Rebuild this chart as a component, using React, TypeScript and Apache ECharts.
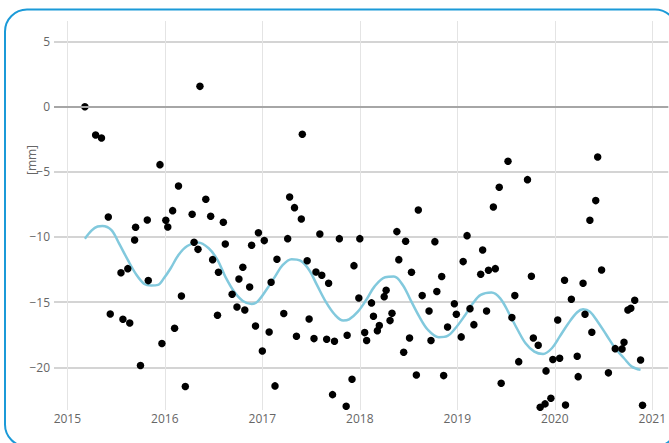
import React, { useEffect, useRef } from "react";
import * as echarts from "echarts";

const xTickYears = [2015, 2016, 2017, 2018, 2019, 2020, 2021];
const yTickValues = [-20, -15, -10, -5, 0, 5];

const obsYears = [
  2015.18, 2015.29, 2015.35, 2015.42, 2015.44, 2015.55, 2015.57, 2015.62, 2015.64, 2015.69,
  2015.7, 2015.75, 2015.82, 2015.83, 2015.95, 2015.97, 2016.01, 2016.03, 2016.08, 2016.1,
  2016.14, 2016.17, 2016.21, 2016.28, 2016.3, 2016.34, 2016.36, 2016.42, 2016.47, 2016.49,
  2016.54, 2016.55, 2016.6, 2016.62, 2016.69, 2016.74, 2016.76, 2016.8, 2016.82, 2016.87,
  2016.89, 2016.93, 2016.96, 2017.0, 2017.02, 2017.07, 2017.09, 2017.13, 2017.15, 2017.22,
  2017.26, 2017.28, 2017.33, 2017.35, 2017.4, 2017.41, 2017.46, 2017.48, 2017.53, 2017.55,
  2017.59, 2017.61, 2017.66, 2017.68, 2017.72, 2017.74, 2017.79, 2017.86, 2017.87, 2017.92,
  2017.94, 2017.99, 2018.0, 2018.05, 2018.07, 2018.12, 2018.14, 2018.18, 2018.2, 2018.25,
  2018.27, 2018.31, 2018.33, 2018.38, 2018.4, 2018.45, 2018.47, 2018.51, 2018.53, 2018.58,
  2018.6, 2018.64, 2018.71, 2018.73, 2018.77, 2018.79, 2018.84, 2018.86, 2018.9, 2018.97,
  2018.99, 2019.04, 2019.06, 2019.1, 2019.13, 2019.17, 2019.24, 2019.26, 2019.3, 2019.32,
  2019.37, 2019.39, 2019.43, 2019.45, 2019.52, 2019.56, 2019.59, 2019.63, 2019.72, 2019.76,
  2019.78, 2019.83, 2019.85, 2019.9, 2019.91, 2019.96, 2019.98, 2020.03, 2020.05, 2020.1,
  2020.11, 2020.17, 2020.23, 2020.24, 2020.29, 2020.31, 2020.36, 2020.38, 2020.42, 2020.44,
  2020.48, 2020.55, 2020.62, 2020.69, 2020.71, 2020.75, 2020.78, 2020.82, 2020.88, 2020.9,
];

const obsValues = [
  0, -2.17, -2.4, -8.47, -15.91, -12.74, -16.32, -12.43, -16.6, -10.23,
  -9.26, -19.87, -8.7, -13.35, -4.45, -18.18, -8.72, -9.23, -7.98, -17.01,
  -6.09, -14.53, -21.48, -8.26, -10.41, -10.95, 1.56, -7.11, -8.41, -11.74,
  -16.01, -12.71, -8.87, -10.54, -14.4, -15.37, -13.22, -12.33, -15.6, -13.84,
  -10.64, -16.83, -9.67, -18.75, -10.28, -17.29, -13.48, -21.43, -11.71, -15.88,
  -10.13, -6.93, -7.75, -17.62, -8.62, -2.12, -11.82, -16.29, -17.8, -12.69,
  -9.77, -12.94, -17.85, -13.55, -22.1, -18.01, -10.13, -22.99, -17.54, -20.92,
  -12.2, -14.68, -10.13, -17.34, -17.95, -15.06, -16.09, -17.19, -16.8, -14.58,
  -14.09, -16.42, -15.86, -9.59, -11.74, -18.85, -10.33, -17.75, -12.71, -20.59,
  -7.93, -14.5, -15.68, -17.95, -10.36, -14.19, -13.04, -20.64, -16.91, -15.12,
  -15.93, -17.67, -11.89, -9.9, -15.5, -16.73, -12.86, -11.0, -15.68, -12.56,
  -7.7, -12.43, -6.19, -21.23, -4.19, -16.19, -14.5, -19.57, -5.6, -13.02,
  -17.75, -18.31, -23.07, -22.81, -20.28, -22.38, -19.41, -16.37, -19.31, -13.32,
  -22.89, -14.78, -19.16, -20.72, -13.55, -15.93, -8.72, -17.31, -7.21, -3.86,
  -12.53, -20.43, -18.57, -18.59, -18.08, -15.6, -15.47, -14.86, -19.44, -22.92,
];

const trendYears = [
  2015.18, 2015.25, 2015.31, 2015.36, 2015.45, 2015.53, 2015.62, 2015.71, 2015.79, 2015.86,
  2015.93, 2015.99, 2016.06, 2016.14, 2016.23, 2016.34, 2016.45, 2016.54, 2016.62, 2016.71,
  2016.8, 2016.89, 2016.95, 2017.04, 2017.13, 2017.21, 2017.3, 2017.39, 2017.48, 2017.56,
  2017.65, 2017.74, 2017.83, 2017.89, 2017.98, 2018.07, 2018.15, 2018.26, 2018.35, 2018.44,
  2018.52, 2018.61, 2018.7, 2018.81, 2018.9, 2018.98, 2019.07, 2019.16, 2019.24, 2019.35,
  2019.44, 2019.53, 2019.62, 2019.7, 2019.79, 2019.88, 2019.97, 2020.05, 2020.14, 2020.23,
  2020.29, 2020.36, 2020.44, 2020.53, 2020.62, 2020.71, 2020.79, 2020.88,
];

const trendValues = [
  -10.13, -9.5, -9.2, -9.16, -9.46, -10.49, -11.76, -12.92, -13.61, -13.73,
  -13.68, -13.17, -12.4, -11.38, -10.69, -10.43, -10.87, -11.76, -13.04, -14.19,
  -14.91, -15.14, -14.96, -14.07, -13.04, -12.15, -11.71, -11.82, -12.53, -13.68,
  -14.96, -15.93, -16.42, -16.32, -15.73, -14.78, -13.81, -13.09, -13.04, -13.68,
  -14.83, -16.11, -17.14, -17.7, -17.6, -17.01, -16.11, -15.09, -14.45, -14.27,
  -14.71, -15.86, -17.14, -18.16, -18.8, -18.98, -18.54, -17.65, -16.62, -15.78,
  -15.55, -15.73, -16.5, -17.52, -18.54, -19.31, -19.95, -20.2,
];

const FONT = '"Open Sans", "DejaVu Sans", sans-serif';

export default function App() {
  const ref = useRef<HTMLDivElement>(null);

  useEffect(() => {
    if (!ref.current) return;
    const chart = echarts.init(ref.current, null, { renderer: "svg" });
    const obs = obsYears.map((y, i) => [y, obsValues[i]]);
    const trend = trendYears.map((y, i) => [y, trendValues[i]]);
    chart.setOption({
      animation: false,
      backgroundColor: "#ffffff",
      grid: { left: 54, right: 0, top: 21, bottom: 33, containLabel: false },
      xAxis: {
        type: "value",
        min: 2014.863,
        max: 2021.164,
        axisLine: { show: false },
        axisTick: { show: false, customValues: xTickYears },
        axisLabel: {
          customValues: xTickYears,
          color: "#666",
          fontFamily: FONT,
          fontSize: 12,
          margin: 2,
          formatter: (v: number) => String(v),
        },
        splitLine: { show: true, lineStyle: { color: "#e4e4e4", width: 1 } },
      },
      yAxis: {
        type: "value",
        min: -23.28,
        max: 6.575,
        axisLine: { show: false },
        axisTick: { show: false, customValues: yTickValues },
        axisLabel: {
          customValues: yTickValues,
          color: "#666",
          fontFamily: FONT,
          fontSize: 12,
          margin: 4,
          formatter: (v: number) => (v < 0 ? "\u2212" + Math.abs(v) : String(v)),
        },
        splitLine: { show: true, lineStyle: { color: "#d4d4d4", width: 2 } },
      },
      graphic: [
        {
          type: "rect",
          shape: { x: 5, y: 9.5, width: 672, height: 437, r: 22 },
          style: { fill: "none", stroke: "#1b9ad8", lineWidth: 2 },
          silent: true,
          z: 100,
        },
        {
          type: "text",
          x: 31,
          y: 160,
          rotation: Math.PI / 2,
          style: {
            text: "[mm]",
            fill: "#666",
            font: '12px "Open Sans", sans-serif',
            align: "center",
            verticalAlign: "middle",
          },
        },
      ],
      series: [
        {
          type: "line",
          data: trend,
          smooth: 0.35,
          showSymbol: false,
          symbol: "none",
          lineStyle: { color: "#82c9dd", width: 2.5 },
          z: 2,
          markLine: {
            silent: true,
            symbol: "none",
            label: { show: false },
            lineStyle: { color: "#a6a6a6", width: 2, type: "solid" },
            data: [{ yAxis: 0 }],
          },
        },
        {
          type: "scatter",
          data: obs,
          symbol: "circle",
          symbolSize: 7.5,
          itemStyle: { color: "#000000", opacity: 1 },
          z: 3,
        },
      ],
    });
    return () => chart.dispose();
  }, []);

  return (
    <div
      ref={ref}
      style={{ position: "fixed", left: 0, top: 0, width: 669, height: 443, background: "#fff" }}
    />
  );
}
